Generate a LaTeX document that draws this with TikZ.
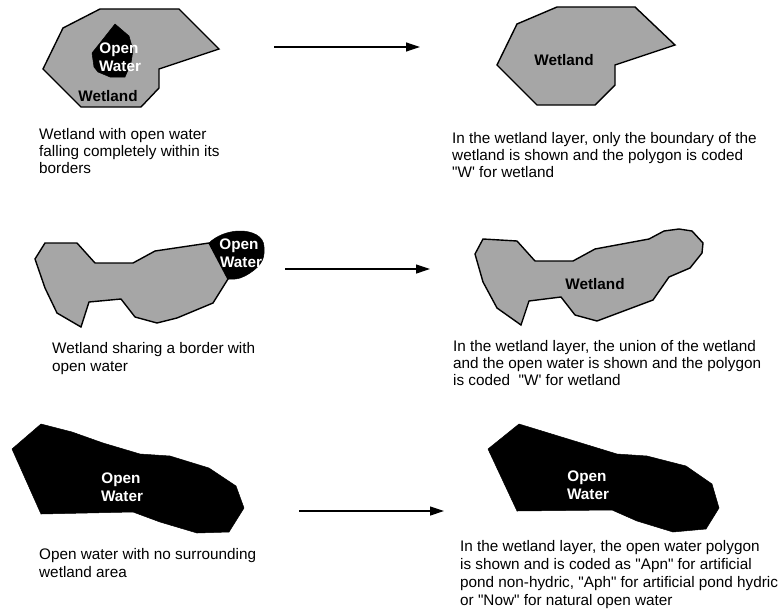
\documentclass[tikz,border=0pt]{standalone}
\usepackage{fontspec}
\setmainfont[Ligatures=TeXOff]{Liberation Sans}
\usetikzlibrary{arrows.meta}
\definecolor{wetgray}{HTML}{A6A6A6}
\tikzset{
  wet/.style={draw=black,fill=wetgray,line width=1.4pt,line join=miter},
  water/.style={draw=black,fill=black,line width=0.5pt,line join=round},
  lbl/.style={font=\fontsize{15.3}{17}\selectfont\bfseries,inner sep=0pt,align=center,anchor=base},
  lblw/.style={lbl,text=white},
  captext/.style={font=\fontsize{15.3}{17.2}\selectfont,inner sep=0pt,align=left,anchor=north west,text=black},
  captextb/.style={captext,font=\fontsize{15.3}{18}\selectfont},
  flow/.style={line width=1.2pt,-{Triangle[length=14pt,width=9pt]}}
}
\begin{document}
\begin{tikzpicture}[x=1pt,y=-1pt]
\useasboundingbox (0,0) rectangle (783,610);
\fill[white] (0,0) rectangle (783,610);
% row 1
\draw[wet] (100,9)--(179,9)--(219,49)--(159,69)--(159,88)--(141,107)--(81,107)--(43,69)--(63,28)--cycle;
\draw[water] (115,24)--(129,36)--(133,50)--(131,63)--(125,77)--(110,77)--(98,72)--(94,67)--(92,53)--(100,43)--cycle;
\node[lblw] (o1) at (119,53) {Open};
\node[lblw] (w1) at (120,71) {Water};
\node[lbl] (t1) at (108,101) {Wetland};
\node[captext] (c1) at (39,128) {Wetland with open water\\falling completely within its\\borders};
\coordinate (a1s) at (274,47);
\coordinate (a1e) at (420,47);
\draw[flow] (a1s)--(a1e);
\draw[wet] (557,7)--(635,7)--(675,45)--(615,65)--(615,85)--(595,105)--(537,105)--(497,65)--(517,24)--cycle;
\node[lbl] (t2) at (564,65) {Wetland};
\node[captext] (c2) at (452,132) {In the wetland layer, only the boundary of the\\wetland is shown and the polygon is coded\\"W' for wetland};
% row 2
\draw[water] (209,243) .. controls (216,236) and (228,231) .. (240,231) .. controls (252,231) and (264,236) .. (264,247) .. controls (265,258) and (262,265) .. (250,273) .. controls (244,277) and (238,280) .. (228,279)--cycle;
\draw[wet] (45,243)--(77,243)--(95,263)--(133,263)--(155,251)--(209,243)--(228,279)--(213,303)--(177,318)--(157,323)--(135,317)--(121,299)--(89,302)--(81,327)--(57,313)--(45,288)--(35,259)--cycle;
\node[lblw] (o3) at (239,249) {Open};
\node[lblw] (w3) at (241,267) {Water};
\node[captextb] (c3) at (52,342) {Wetland sharing a border with\\open water};
\coordinate (a2s) at (285,269);
\coordinate (a2e) at (430,269);
\draw[flow] (a2s)--(a2e);
\draw[wet] (483,239)--(517,241)--(535,261)--(573,261)--(595,249)--(649,239)--(664,231)--(679,229)--(692,231)--(703,243)--(702,253)--(690,268)--(669,277)--(653,300)--(597,321)--(575,315)--(561,297)--(529,301)--(521,325)--(497,308)--(483,282)--(475,254)--cycle;
\node[lbl] (t4) at (595,289) {Wetland};
\node[captext] (c4) at (453,340) {In the wetland layer, the union of the wetland\\and the open water is shown and the polygon\\is coded \ "W' for wetland};
% row 3
\draw[water] (41,424)--(72,432)--(103,443)--(140,454)--(170,456)--(209,468)--(236,486)--(244,508)--(229,532)--(197,533)--(160,522)--(133,512)--(41,514)--(12,449)--cycle;
\node[lblw] (o5) at (121,483) {Open};
\node[lblw] (w5) at (122,501) {Water};
\node[captextb] (c5) at (39,548) {Open water with no surrounding\\wetland area};
\coordinate (a3s) at (299,511);
\coordinate (a3e) at (444,511);
\draw[flow] (a3s)--(a3e);
\draw[water] (519,424)--(617,454)--(647,456)--(686,466)--(712,484)--(719,508)--(706,529)--(673,532)--(637,521)--(612,510)--(517,511)--(488,449)--cycle;
\node[lblw] (o6) at (587,481) {Open};
\node[lblw] (w6) at (588,499) {Water};
\node[captextb] (c6) at (460,540) {In the wetland layer, the open water polygon\\is shown and is coded as "Apn" for artificial\\pond non-hydric, "Aph" for artificial pond hydric\\or "Now" for natural open water};
\end{tikzpicture}
\end{document}
